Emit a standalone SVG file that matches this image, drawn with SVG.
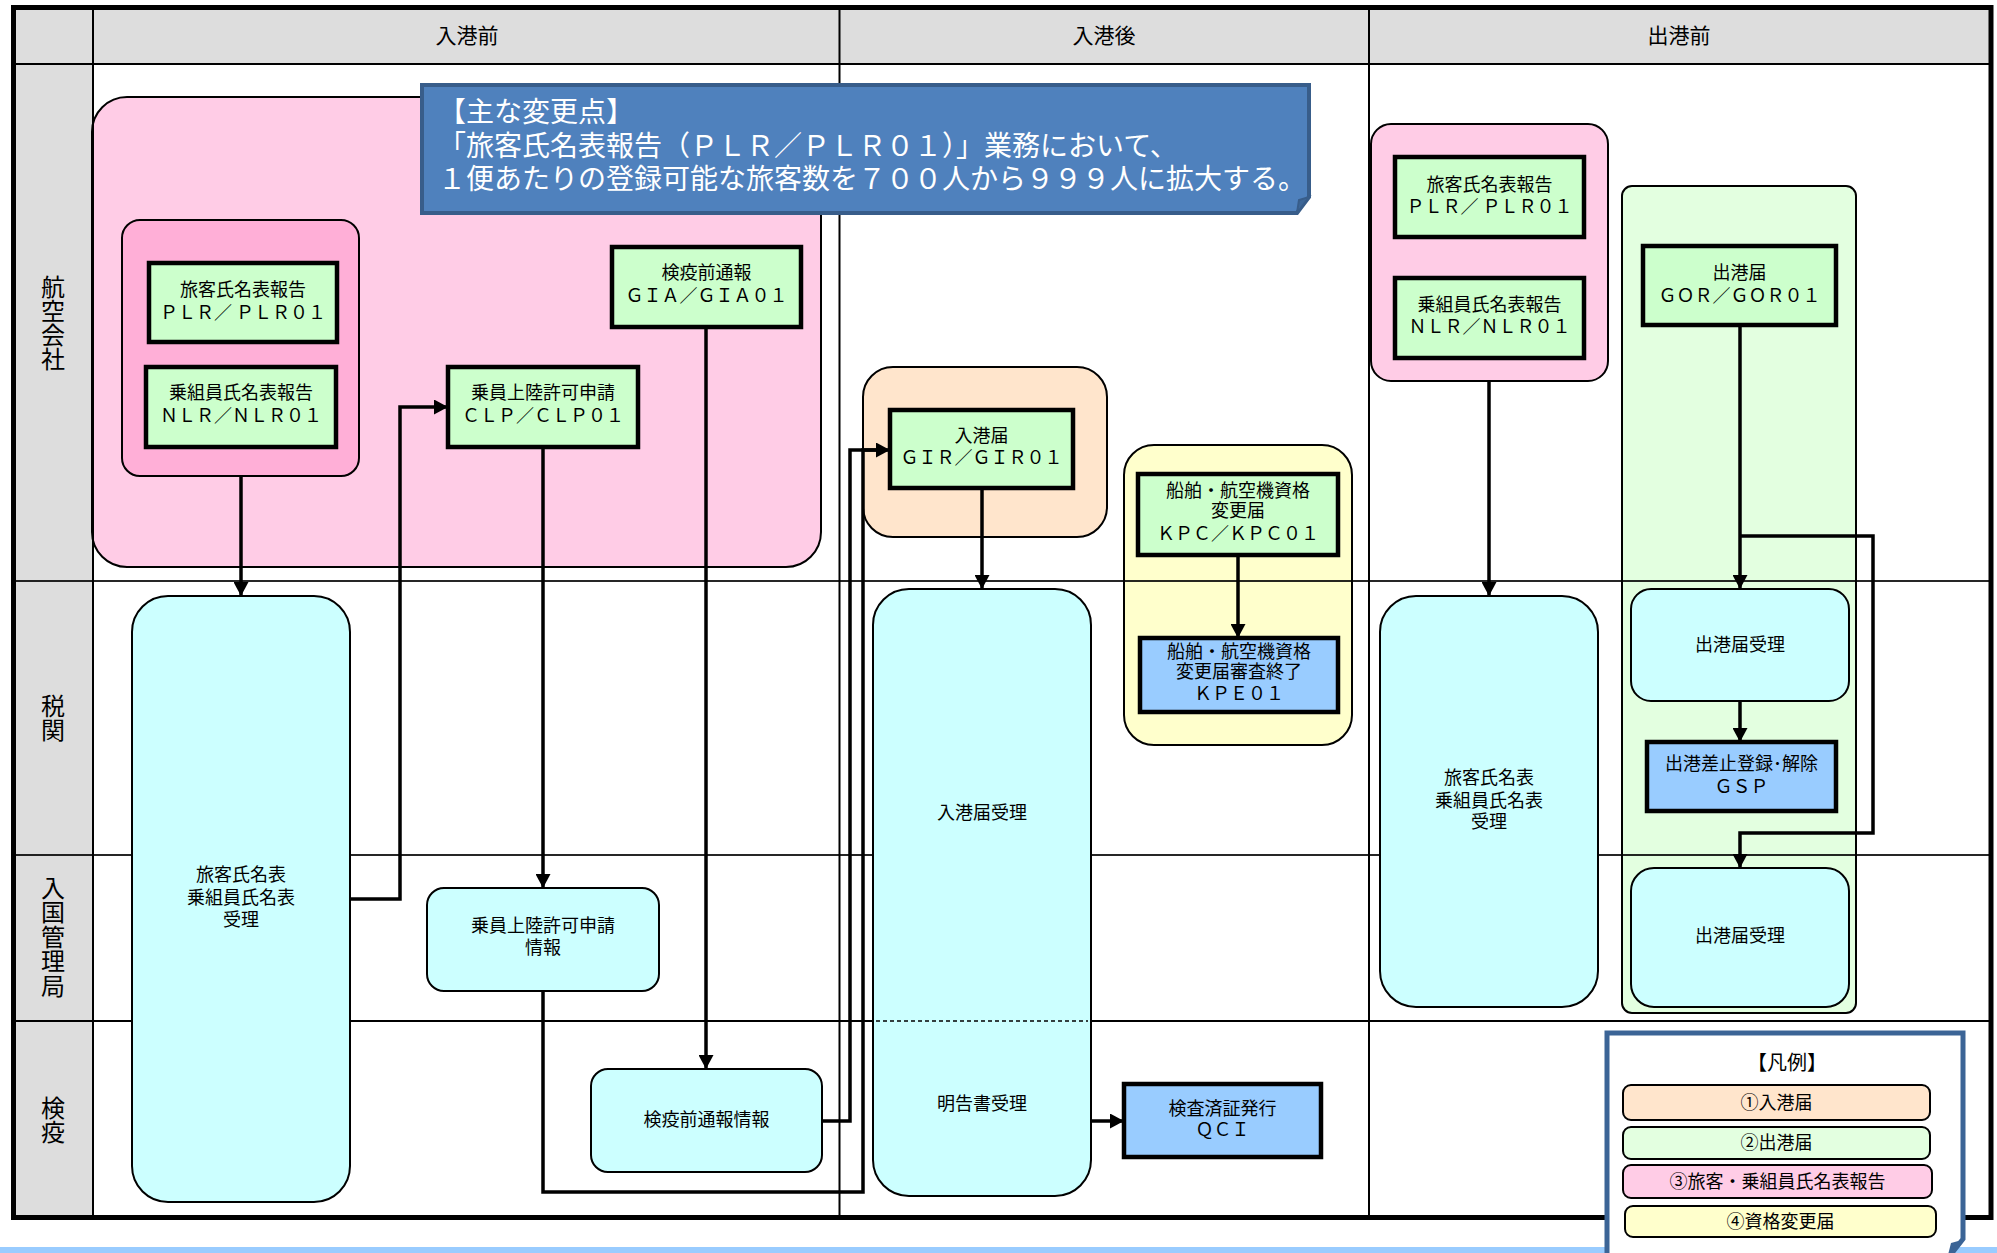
<svg xmlns="http://www.w3.org/2000/svg" width="1997" height="1253" viewBox="0 0 1997 1253">
<style>
text{font-family:"Noto Sans CJK JP","Noto Sans",sans-serif;fill:#000;text-anchor:middle}
.t{font-size:18px}
.h{font-size:21px}
.ln{font-size:24px;writing-mode:vertical-rl}
.nt{font-size:28px;fill:#fff;text-anchor:start}
.grid{stroke:#000;stroke-width:2;fill:none}
.g{fill:#ccffcc;stroke:#000;stroke-width:4.5}
.b{fill:#99ccff;stroke:#000;stroke-width:4.5}
.c{fill:#ccffff;stroke:#000;stroke-width:2}
.ct{stroke:#000;stroke-width:2}
.conn{fill:none;stroke:#000;stroke-width:3.5;stroke-linejoin:miter}
.li{stroke:#000;stroke-width:2}
</style>
<defs>
<marker id="ah" viewBox="0 0 14 15" refX="14" refY="7.5" markerWidth="14" markerHeight="15" orient="auto" markerUnits="userSpaceOnUse">
<path d="M0,0 L14,7.5 L0,15 Z" fill="#000"/>
</marker>
</defs>
<rect x="0" y="0" width="1997" height="1253" fill="#fff"/>
<g id="lanes-bg">
<rect x="13" y="8" width="1978" height="56" fill="#dddddd"/>
<rect x="13" y="64" width="80" height="1153" fill="#dddddd"/>
</g>
<!-- containers -->
<g id="grp-arrival-pre">
<rect class="ct" x="92" y="97" width="729" height="470" rx="35" fill="#ffcce6"/>
</g>
<g id="grp-names-left">
<rect class="ct" x="122" y="220" width="237" height="256" rx="18" fill="#ffafd7"/>
</g>
<g id="grp-gir">
<rect class="ct" x="863" y="367" width="244" height="170" rx="30" fill="#ffe5cc"/>
</g>
<g id="grp-kpc">
<rect class="ct" x="1124" y="445" width="228" height="300" rx="30" fill="#ffffcc"/>
</g>
<g id="grp-names-right">
<rect class="ct" x="1371" y="124" width="237" height="257" rx="20" fill="#ffcce6"/>
</g>
<g id="grp-gor">
<rect class="ct" x="1622" y="186" width="234" height="827" rx="10" fill="#e3ffe0"/>
</g>
<!-- grid -->
<g id="grid" class="grid">
<line x1="13" y1="64" x2="1991" y2="64"/>
<line x1="13" y1="581" x2="1991" y2="581" stroke-opacity="0.85"/>
<line x1="13" y1="855" x2="1991" y2="855" stroke-opacity="0.85"/>
<line x1="13" y1="1021" x2="1991" y2="1021"/>
<line x1="93" y1="8" x2="93" y2="1217"/>
<line x1="839.5" y1="8" x2="839.5" y2="1217"/>
<line x1="1369" y1="8" x2="1369" y2="1217"/>
</g>
<g id="headers">
<text class="h" x="467" y="42.5">入港前</text>
<text class="h" x="1104" y="42.5">入港後</text>
<text class="h" x="1679" y="42.5">出港前</text>
</g>
<g id="lane-labels">
<text class="ln" x="53" y="323">航空会社</text>
<text class="ln" x="53" y="718">税関</text>
<text class="ln" x="53" y="937" letter-spacing="0.5">入国管理局</text>
<text class="ln" x="53" y="1120">検疫</text>
</g>
<!-- connectors -->
<g id="connectors" class="conn">
<path class="conn" d="M241,476 V596" marker-end="url(#ah)"/>
<path class="conn" d="M350,899 H400 V407 H448" stroke-width="4" marker-end="url(#ah)"/>
<path class="conn" d="M543,447 V888" marker-end="url(#ah)"/>
<path class="conn" d="M706,327 V1069" marker-end="url(#ah)"/>
<path class="conn" d="M822,1121 H850 V450 H890" marker-end="url(#ah)"/>
<path class="conn" d="M543,991 V1192 H863 V450 H876"/>
<path class="conn" d="M982,488 V589" marker-end="url(#ah)"/>
<path class="conn" d="M1091,1121 H1124" stroke-width="4" marker-end="url(#ah)"/>
<path class="conn" d="M1238,555 V638" marker-end="url(#ah)"/>
<path class="conn" d="M1489,381 V596" marker-end="url(#ah)"/>
<path class="conn" d="M1740,325 V589" stroke-width="4" marker-end="url(#ah)"/>
<path class="conn" d="M1740,536 H1873 V833 H1740 V868" marker-end="url(#ah)"/>
<path class="conn" d="M1740,701 V742" stroke-width="4" marker-end="url(#ah)"/>
</g>
<!-- nodes -->
<g id="n-plr-left">
<rect class="g" x="149" y="263" width="188" height="79"/>
<text class="t" x="243" y="296">旅客氏名表報告<tspan x="243" dy="23">ＰＬＲ／ ＰＬＲ０１</tspan></text>
</g>
<g id="n-nlr-left">
<rect class="g" x="146" y="367" width="190" height="80"/>
<text class="t" x="241" y="399">乗組員氏名表報告<tspan x="241" dy="23">ＮＬＲ／ＮＬＲ０１</tspan></text>
</g>
<g id="n-clp">
<rect class="g" x="448" y="367" width="190" height="80"/>
<text class="t" x="543" y="399">乗員上陸許可申請<tspan x="543" dy="23">ＣＬＰ／ＣＬＰ０１</tspan></text>
</g>
<g id="n-gia">
<rect class="g" x="612" y="247" width="189" height="80"/>
<text class="t" x="706.5" y="279">検疫前通報<tspan x="706.5" dy="23">ＧＩＡ／ＧＩＡ０１</tspan></text>
</g>
<g id="n-names-recv-left">
<rect class="c" x="132" y="596" width="218" height="606" rx="36"/>
<text class="t" x="241" y="881">旅客氏名表<tspan x="241" dy="23">乗組員氏名表</tspan><tspan x="241" dy="22">受理</tspan></text>
</g>
<g id="n-clp-info">
<rect class="c" x="427" y="888" width="232" height="103" rx="17"/>
<text class="t" x="543" y="932">乗員上陸許可申請<tspan x="543" dy="22">情報</tspan></text>
</g>
<g id="n-gia-info">
<rect class="c" x="591" y="1069" width="231" height="103" rx="17"/>
<text class="t" x="706.5" y="1126">検疫前通報情報</text>
</g>
<g id="n-gir">
<rect class="g" x="890" y="410" width="183" height="78"/>
<text class="t" x="981.5" y="442">入港届<tspan x="981.5" dy="22">ＧＩＲ／ＧＩＲ０１</tspan></text>
</g>
<g id="n-kpc">
<rect class="g" x="1138" y="474" width="200" height="81"/>
<text class="t" x="1238" y="497">船舶・航空機資格<tspan x="1238" dy="20">変更届</tspan><tspan x="1238" dy="23">ＫＰＣ／ＫＰＣ０１</tspan></text>
</g>
<g id="n-kpe">
<rect class="b" x="1140" y="638" width="198" height="74"/>
<text class="t" x="1239" y="658">船舶・航空機資格<tspan x="1239" dy="20">変更届審査終了</tspan><tspan x="1239" dy="22">ＫＰＥ０１</tspan></text>
</g>
<g id="n-arrival-recv">
<rect class="c" x="873" y="589" width="218" height="607" rx="36"/>
<line x1="876" y1="1021" x2="1088" y2="1021" stroke="#000" stroke-width="1.5" stroke-dasharray="4,3"/>
<text class="t" x="982" y="819">入港届受理</text>
<text class="t" x="982" y="1110">明告書受理</text>
</g>
<g id="n-qci">
<rect class="b" x="1124" y="1084" width="197" height="73"/>
<text class="t" x="1222.5" y="1115">検査済証発行<tspan x="1222.5" dy="20.5">ＱＣＩ</tspan></text>
</g>
<g id="n-plr-right">
<rect class="g" x="1395" y="157" width="189" height="80"/>
<text class="t" x="1489.5" y="191">旅客氏名表報告<tspan x="1489.5" dy="21.5">ＰＬＲ／ ＰＬＲ０１</tspan></text>
</g>
<g id="n-nlr-right">
<rect class="g" x="1395" y="278" width="189" height="80"/>
<text class="t" x="1489.5" y="311">乗組員氏名表報告<tspan x="1489.5" dy="22">ＮＬＲ／ＮＬＲ０１</tspan></text>
</g>
<g id="n-gor">
<rect class="g" x="1643" y="246" width="193" height="79"/>
<text class="t" x="1739.5" y="279">出港届<tspan x="1739.5" dy="23">ＧＯＲ／ＧＯＲ０１</tspan></text>
</g>
<g id="n-names-recv-right">
<rect class="c" x="1380" y="596" width="218" height="411" rx="36"/>
<text class="t" x="1489" y="784">旅客氏名表<tspan x="1489" dy="23">乗組員氏名表</tspan><tspan x="1489" dy="21">受理</tspan></text>
</g>
<g id="n-dep-recv-1">
<rect class="c" x="1631" y="589" width="218" height="112" rx="20"/>
<text class="t" x="1740" y="651">出港届受理</text>
</g>
<g id="n-gsp">
<rect class="b" x="1647" y="742" width="189" height="69"/>
<text class="t" x="1741.5" y="770">出港差止登録･解除<tspan x="1741.5" dy="23">ＧＳＰ</tspan></text>
</g>
<g id="n-dep-recv-2">
<rect class="c" x="1631" y="868" width="218" height="139" rx="23"/>
<text class="t" x="1740" y="942">出港届受理</text>
</g>
<!-- notice -->
<g id="notice">
<path d="M422,85 H1309 V197 L1297,213 H422 Z" fill="#4f81bd" stroke="#385d8a" stroke-width="4" stroke-linejoin="miter"/>
<path d="M1297,213 L1299,200 L1309,197 Z" fill="#3e6798" stroke="#385d8a" stroke-width="2"/>
<text class="nt" x="438" y="122">【主な変更点】<tspan x="438" dy="34">「旅客氏名表報告（ＰＬＲ／ＰＬＲ０１）」業務において、</tspan><tspan x="438" dy="33">１便あたりの登録可能な旅客数を７００人から９９９人に拡大する。</tspan></text>
</g>
<!-- frame -->
<rect x="13.5" y="7.5" width="1977.5" height="1210" fill="none" stroke="#000" stroke-width="5"/>
<rect x="0" y="1247" width="1997" height="6" fill="#99ccff"/>
<!-- legend -->
<g id="legend">
<path d="M1607,1033 H1963 V1239 L1948,1258 H1607 Z" fill="#fff" stroke="#3b6496" stroke-width="5"/>
<path d="M1948,1255 L1951,1243 L1962,1240 Z" fill="#3b6496"/>
<text x="1787" y="1069.5" font-size="20">【凡例】</text>
<rect class="li" x="1623" y="1085" width="307" height="35" rx="8" fill="#ffe5cc"/>
<text class="t" x="1776.5" y="1109">①入港届</text>
<rect class="li" x="1623" y="1127" width="307" height="32" rx="8" fill="#e3ffe0"/>
<text class="t" x="1776.5" y="1149">②出港届</text>
<rect class="li" x="1623" y="1165" width="309" height="33" rx="8" fill="#ffcce6"/>
<text class="t" x="1777.5" y="1188">③旅客・乗組員氏名表報告</text>
<rect class="li" x="1625" y="1206" width="311" height="31" rx="8" fill="#ffffcc"/>
<text class="t" x="1780.5" y="1228">④資格変更届</text>
</g>
</svg>
